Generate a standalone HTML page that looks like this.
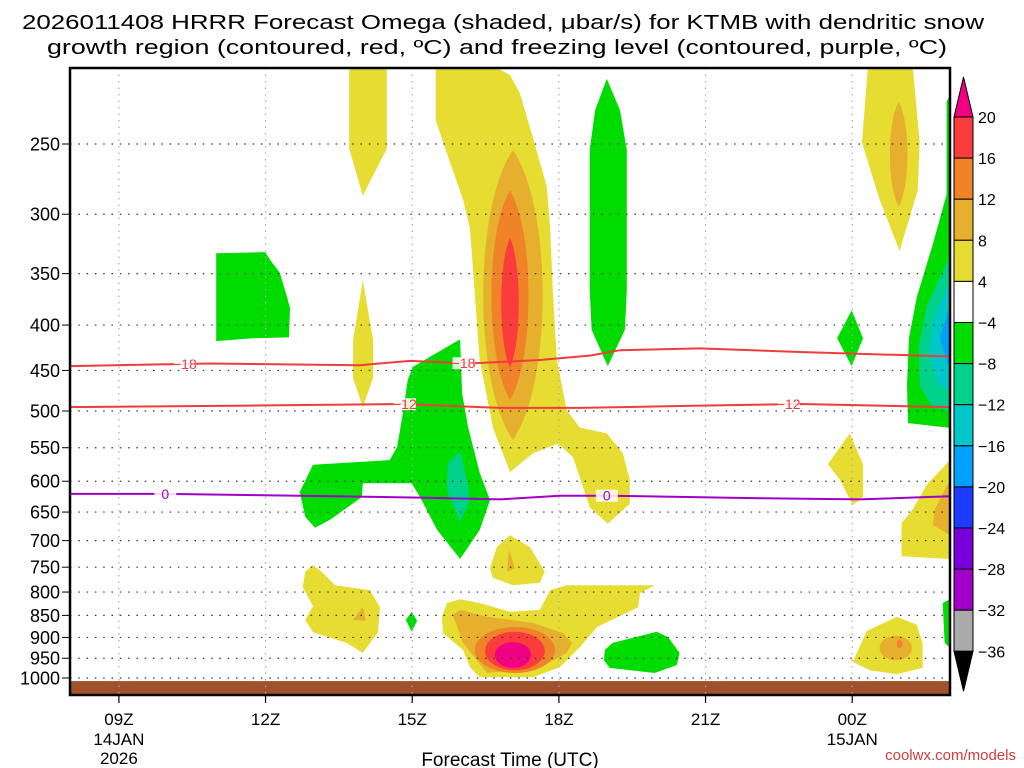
<!DOCTYPE html>
<html><head><meta charset="utf-8"><style>
html,body{margin:0;padding:0;background:#fff;width:1024px;height:768px;overflow:hidden}
svg{display:block}
text{font-family:"Liberation Sans",sans-serif;fill:#000}
</style></head><body>
<svg id="chart" width="1024" height="768" viewBox="0 0 1024 768" xmlns="http://www.w3.org/2000/svg">
<g>
<text x="503" y="29" text-anchor="middle" font-size="20" textLength="962" lengthAdjust="spacingAndGlyphs">2026011408 HRRR Forecast Omega (shaded, μbar/s) for KTMB with dendritic snow</text>
<text x="497" y="54" text-anchor="middle" font-size="20" textLength="900" lengthAdjust="spacingAndGlyphs">growth region (contoured, red, ºC) and freezing level (contoured, purple, ºC)</text>
</g>
<g id="fills"></g>
<g id="grid"></g>
<g id="lines"></g>
<g id="axes"></g>
<g id="cbar"></g>
<text x="510" y="766" text-anchor="middle" font-size="19">Forecast Time (UTC)</text>
<text x="1016" y="760" text-anchor="end" font-size="15" style="fill:#d23c3c">coolwx.com/models</text>
</svg>
<script>
const NS="http://www.w3.org/2000/svg";
const X0=70,X1=950,Y0=68,Y1=695;
const hourMin=8,hourMax=26;
const pressureTicks=[250,300,350,400,450,500,550,600,650,700,750,800,850,900,950,1000];
const timeTicks=[9,12,15,18,21,24];
const timeLabels=["09Z","12Z","15Z","18Z","21Z","00Z"];
const timeSub=[["14JAN","2026"],[],[],[],[],["15JAN"]];
const cbLevels=[20,16,12,8,4,-4,-8,-12,-16,-20,-24,-28,-32,-36];
const cbColors=["#fa3c3c","#f08228","#e6af2d","#e6dc32","#ffffff","#00dc00","#00d28c","#00c8c8","#00a0ff","#1e3cff","#7800dc","#a000c8","#aaaaaa"];
const C={y:"#e6dc32",g:"#e6af2d",o:"#f08228",r:"#fa3c3c",m:"#f00082",G:"#00dc00",T:"#00d28c",c:"#00c8c8",b:"#00a0ff"};
const groundPressure=1008;
const polyYellowCol=[[13.71,205],[14.48,205],[14.48,253],[13.99,286],[13.71,253]];
const polyYellowSpindle=[[13.99,356],[14.2,416],[14.2,459],[13.99,495],[13.79,459],[13.79,416]];
const polyPlume=[[15.48,205],[16.73,205],[17.0,209],[17.2,219],[17.47,246],[17.75,279],[17.82,311],[17.88,369],[17.96,438],[18.16,499],[18.43,522],[18.98,530],[19.31,558],[19.45,598],[19.45,636],[19.0,670],[18.63,642],[18.29,564],[17.98,544],[17.47,558],[17.0,586],[16.65,522],[16.38,438],[16.28,369],[16.18,311],[16.04,289],[15.71,256],[15.48,235]];
const polyGreenCol=[[18.98,211],[19.25,229],[19.39,254],[19.39,365],[19.35,405],[19.0,445],[18.67,405],[18.63,365],[18.63,254],[18.74,229]];
const polyGreenRect=[[10.99,332],[11.99,331],[12.13,340],[12.29,349],[12.44,372],[12.5,383],[12.48,413],[11.74,414],[10.99,417]];
const polyGreenBig=[[15.98,415],[15.01,446],[14.91,461],[14.81,503],[14.69,549],[14.54,568],[12.97,575],[12.70,617],[12.81,658],[13.01,677],[13.32,663],[13.97,625],[13.99,603],[14.99,603],[15.16,625],[15.51,681],[15.98,734],[16.38,681],[16.59,630],[16.38,587],[16.14,521],[16.02,477]];
const polyTeal=[[15.98,556],[15.73,572],[15.71,614],[15.98,667],[16.18,630],[16.12,598]];
const polyYelTri=[[17.0,690],[17.41,712],[17.71,759],[17.61,781],[17.06,786],[16.65,771],[16.59,752],[16.73,712]];
const polyGoldTri=[[16.98,717],[17.1,752],[16.94,759]];
const polyLowYellow=[[15.61,853],[15.71,823],[15.98,815],[16.38,823],[17.0,842],[17.61,838],[17.82,796],[18.16,786],[19.96,786],[19.66,802],[19.62,832],[18.78,876],[18.43,923],[18.02,972],[17.47,998],[16.38,998],[16.18,972],[16.04,930],[15.63,890]];
const polyLowGold=[[15.83,849],[15.98,838],[16.53,853],[17.47,867],[18.08,890],[18.27,913],[18.16,937],[17.61,974],[16.53,987],[16.32,955],[16.04,913]];
const polyLeftYellow=[[12.81,759],[12.97,746],[13.17,761],[13.42,786],[14.13,796],[14.34,832],[14.3,888],[13.99,937],[13.66,913],[12.97,888],[12.81,860],[12.97,830],[12.76,790]];
const polyLeftGold=[[13.99,832],[14.05,862],[13.79,860]];
const polyGreenDiamond=[[14.99,842],[15.1,862],[14.99,887],[14.87,860]];
const polyGreenLow=[[18.94,930],[19.1,913],[20.0,887],[20.23,899],[20.47,937],[20.41,967],[19.96,987],[19.04,974],[18.92,955]];
const polyTRYellow=[[24.32,205],[25.24,205],[25.38,249],[25.34,282],[24.97,330],[24.56,289],[24.2,249]];
const polyGreenDia2=[[23.99,385],[24.22,414],[23.99,445],[23.69,414]];
const polyRightGreen=[[26,220],[25.93,224],[25.93,285],[25.65,324],[25.32,372],[25.16,414],[25.12,468],[25.14,516],[25.96,522],[26,522]];
const polyRightTeal=[[26,334],[25.53,380],[25.36,422],[25.38,468],[25.65,495],[26,500]];
const polyRightCyan=[[26,356],[25.65,396],[25.57,431],[25.73,464],[26,475]];
const polyRightBlue=[[26,380],[25.79,414],[26,450]];
const polyMidYellow=[[23.5,574],[23.95,530],[24.22,574],[24.22,625],[24.01,638],[23.75,598]];
const polyRightYellow=[[26,568],[25.53,605],[25.24,645],[25.01,669],[25.01,729],[25.96,734],[26,734]];
const polyRightGold=[[26,598],[25.69,645],[25.65,672],[26,690]];
const polyBRYellow=[[24.01,959],[24.3,885],[24.91,853],[25.32,871],[25.44,915],[25.44,974],[24.91,990],[24.36,980]];
const polyBRGreen=[[25.85,823],[26,815],[26,925],[25.89,912]];
const lensGold=[17.06,254,539,0.61];
const lensOrange=[17.0,282,486,0.38];
const lensRed=[17.0,319,447,0.18];
const lensTRGold=[24.95,224,294,0.18];
const ellOrange=[17.1,876,987,0.82];
const ellRed=[17.1,887,980,0.61];
const ellMagenta=[17.06,911,974,0.37];
const ellBRGold=[24.89,896,955,0.33];
const ellBROrange=[24.97,905,925,0.06];
const iso18=[[8,445],[10.86,442],[13.93,444],[14.95,439],[16.18,442],[17.61,438],[18.63,433],[19.25,427],[20.88,425],[22.93,429],[26,434]];
const iso12=[[8,495],[11.68,493],[14.75,491],[16.79,496],[18.43,496],[20.88,493],[22.93,491],[26,495]];
const iso0=[[8,620],[9.94,620],[12.7,623],[15.16,626],[16.79,629],[18.02,623],[18.98,623],[22.11,627],[24.16,629],[26,624]];
const lab18=[10.35,16.05];const lab12=[14.85,22.7];const lab0=[9.95,18.98];

function xs(h){return X0+(h-hourMin)/(hourMax-hourMin)*(X1-X0);}
function ys(p){return 144+385.2*Math.log(p/250);}
function el(tag,attrs,parent){const e=document.createElementNS(NS,tag);for(const k in attrs)e.setAttribute(k,attrs[k]);parent.appendChild(e);return e;}
const fills=document.getElementById('fills');
function poly(pts,col,name){
  const e=el('polygon',{points:pts.map(q=>xs(q[0]).toFixed(1)+','+ys(q[1]).toFixed(1)).join(' '),fill:col},fills);
  
  
}
function lens(L,col,name){
  const cx=xs(L[0]),yt=ys(L[1]),yb=ys(L[2]),w=(xs(L[0]+L[3])-cx)*1.33,d=(yb-yt)*0.2;
  const e=el('path',{d:`M${cx},${yt} C${cx+w},${yt+d} ${cx+w},${yb-d} ${cx},${yb} C${cx-w},${yb-d} ${cx-w},${yt+d} ${cx},${yt}Z`,fill:col},fills);
  
  
}
function ell(E,col,name){
  const yt=ys(E[1]),yb=ys(E[2]);
  const e=el('ellipse',{cx:xs(E[0]),cy:(yt+yb)/2,rx:xs(E[0]+E[3])-xs(E[0]),ry:(yb-yt)/2,fill:col},fills);
  
  
}
poly(polyYellowCol,C.y,'upward-motion-column');
poly(polyYellowSpindle,C.y,'upward-motion-spindle');
poly(polyPlume,C.y,'main-upward-plume');
lens(lensGold,C.g,'plume-8-12');
lens(lensOrange,C.o,'plume-12-16');
lens(lensRed,C.r,'plume-16-20');
poly(polyGreenCol,C.G,'subsidence-column');
poly(polyGreenRect,C.G,'subsidence-block');
poly(polyGreenBig,C.G,'subsidence-midlevel');
poly(polyTeal,C.T,'subsidence-core');
poly(polyYelTri,C.y,'low-upward-cell');
poly(polyGoldTri,C.g,'low-upward-cell-core');
poly(polyLowYellow,C.y,'boundary-layer-upward');
poly(polyLowGold,C.g,'boundary-layer-8-12');
ell(ellOrange,C.o,'boundary-layer-12-16');
ell(ellRed,C.r,'boundary-layer-16-20');
ell(ellMagenta,C.m,'boundary-layer-max');
poly(polyLeftYellow,C.y,'left-low-upward');
poly(polyLeftGold,C.g,'left-low-upward-core');
poly(polyGreenDiamond,C.G,'small-subsidence-cell');
poly(polyGreenLow,C.G,'low-subsidence-blob');
poly(polyTRYellow,C.y,'upper-right-upward');
lens(lensTRGold,C.g,'upper-right-upward-core');
poly(polyGreenDia2,C.G,'subsidence-diamond');
poly(polyRightGreen,C.G,'right-subsidence');
poly(polyRightTeal,C.T,'right-subsidence-8-12');
poly(polyRightCyan,C.c,'right-subsidence-12-16');
poly(polyRightBlue,C.b,'right-subsidence-16-20');
poly(polyMidYellow,C.y,'late-upward-cell');
poly(polyRightYellow,C.y,'right-upward-cell');
poly(polyRightGold,C.g,'right-upward-core');
poly(polyBRYellow,C.y,'lower-right-upward');
ell(ellBRGold,C.g,'lower-right-upward-core');
ell(ellBROrange,C.o,'lower-right-upward-max');
poly(polyBRGreen,C.G,'lower-right-subsidence');
const gnd=el('rect',{x:X0,y:ys(groundPressure),width:X1-X0,height:Y1-ys(groundPressure),fill:"#a0522d"},fills);



const grid=document.getElementById('grid');
timeTicks.forEach(h=>{
  const e=el('line',{x1:xs(h),x2:xs(h),y1:Y0,y2:Y1,stroke:"#aaa","stroke-width":1.2,"stroke-dasharray":"1.5 5"},grid);
  
  
});
pressureTicks.forEach(p=>{
  const e=el('line',{x1:X0,x2:X1,y1:ys(p),y2:ys(p),stroke:"#333","stroke-width":1.2,"stroke-dasharray":"1.5 6.8"},grid);
  
  
});

const lines=document.getElementById('lines');
function iso(arr,col,labs,txt,name){
  const e=el('polyline',{points:arr.map(q=>xs(q[0]).toFixed(1)+','+ys(q[1]).toFixed(1)).join(' '),fill:"none",stroke:col,"stroke-width":2},lines);
  
  
  labs.forEach(h=>{
    let p=arr[0][1];
    for(let i=0;i<arr.length-1;i++){if(h>=arr[i][0]&&h<=arr[i+1][0]){const t=(h-arr[i][0])/(arr[i+1][0]-arr[i][0]);p=arr[i][1]+t*(arr[i+1][1]-arr[i][1]);}}
    const x=xs(h),y=ys(p);
    const r=el('rect',{x:x-11,y:y-6,width:22,height:12,fill:"#fff","fill-opacity":0.85},lines);
    
    
    const t=el('text',{x:x,y:y+5,"text-anchor":"middle","font-size":14,style:"fill:"+col},lines);
    t.textContent=txt;
    
    
  });
}
iso(iso18,"#f03c3c",lab18,"−18","isotherm-minus-18");
iso(iso12,"#f03c3c",lab12,"−12","isotherm-minus-12");
iso(iso0,"#a000c8",lab0,"0","freezing-level");

const axes=document.getElementById('axes');
const fr=el('rect',{x:X0,y:Y0,width:X1-X0,height:Y1-Y0,fill:"none",stroke:"#000","stroke-width":2.5},axes);


pressureTicks.forEach(p=>{
  const t=el('text',{x:60,y:ys(p)+6.5,"text-anchor":"end","font-size":18},axes);
  t.textContent=p;
  
  
  el('line',{x1:62,x2:X0,y1:ys(p),y2:ys(p),stroke:"#000","stroke-width":1},axes);
});
timeTicks.forEach((h,i)=>{
  el('line',{x1:xs(h),x2:xs(h),y1:Y1,y2:Y1+8,stroke:"#000","stroke-width":1.2},axes);
  const t=el('text',{x:xs(h),y:725,"text-anchor":"middle","font-size":17},axes);
  t.textContent=timeLabels[i];
  
  
  timeSub[i].forEach((s,j)=>{
    const u=el('text',{x:xs(h),y:745+j*19,"text-anchor":"middle","font-size":17},axes);
    u.textContent=s;
    
    
  });
});

const cb=document.getElementById('cbar');
const CBX=954,CBW=19,CBT=117,CBH=41.1;
const cbTopArrow=el('polygon',{points:`${CBX},${CBT} ${CBX+CBW},${CBT} ${CBX+CBW/2},${CBT-40}`,fill:"#f00082",stroke:"#000","stroke-width":1},cb);


cbColors.forEach((c,i)=>{
  const r=el('rect',{x:CBX,y:CBT+i*CBH,width:CBW,height:CBH,fill:c,stroke:"#000","stroke-width":1},cb);
  
  
});
const cbBottomY=CBT+cbColors.length*CBH;
const cbBotArrow=el('polygon',{points:`${CBX},${cbBottomY} ${CBX+CBW},${cbBottomY} ${CBX+CBW/2},${cbBottomY+40}`,fill:"#000",stroke:"#000","stroke-width":1},cb);


cbLevels.forEach((v,i)=>{
  const t=el('text',{x:978,y:CBT+i*CBH+6,"font-size":16},cb);
  t.textContent=v<0?"−"+(-v):String(v);
  
  
});
</script>
</body></html>
